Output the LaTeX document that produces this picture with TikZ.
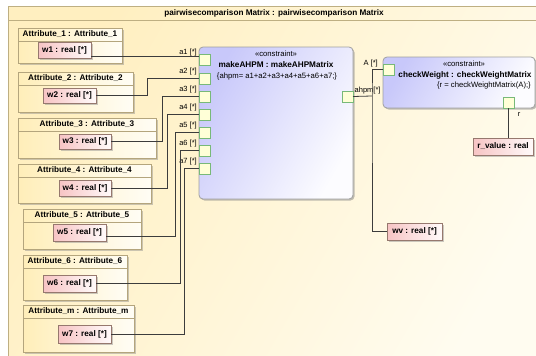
\documentclass[tikz,border=0pt]{standalone}
\usepackage{fontspec}
\setmainfont{Liberation Sans}
\usetikzlibrary{shadows,calc}
\definecolor{frameA}{RGB}{255,239,192}
\definecolor{frameB}{RGB}{255,252,240}
\definecolor{frameLine}{RGB}{190,175,130}
\definecolor{attrA}{RGB}{255,238,185}
\definecolor{attrB}{RGB}{255,253,245}
\definecolor{attrLine}{RGB}{180,165,125}
\definecolor{wA}{RGB}{247,196,196}
\definecolor{wB}{RGB}{255,250,250}
\definecolor{wLine}{RGB}{150,120,110}
\definecolor{cA}{RGB}{200,200,250}
\definecolor{cB}{RGB}{252,252,255}
\definecolor{cLine}{RGB}{160,160,160}
\definecolor{portFill}{RGB}{255,255,215}
\definecolor{portLine}{RGB}{120,185,120}
\definecolor{connCol}{RGB}{60,60,60}
\begin{document}
\begin{tikzpicture}[x=1pt,y=-1pt,
  box/.style={inner sep=0pt, outer sep=0pt, anchor=north west},
  framebox/.style={box, draw=frameLine, line width=0.8pt, left color=frameA, right color=frameB, shading angle=60},
  attrbox/.style={box, draw=attrLine, line width=0.8pt, left color=attrA, right color=attrB,
     drop shadow={shadow xshift=1.5pt, shadow yshift=-1.5pt, fill=black!45, opacity=0.45}},
  wbox/.style={box, draw=wLine, line width=0.6pt, left color=wA, right color=wB,
     drop shadow={shadow xshift=1.5pt, shadow yshift=-1.5pt, fill=black!45, opacity=0.45}},
  cblock/.style={box, draw=cLine, line width=0.8pt, rounded corners=4pt, left color=cA, right color=cB, shading angle=60,
     drop shadow={shadow xshift=1.5pt, shadow yshift=-1.5pt, fill=black!50, opacity=0.5}},
  portbox/.style={box, draw=portLine, line width=0.6pt, fill=portFill, minimum width=11pt, minimum height=11pt},
  bold/.style={inner sep=0pt, font=\fontsize{8.2}{10}\selectfont\bfseries},
  reg/.style={inner sep=0pt, font=\fontsize{7.7}{9}\selectfont},
  plabel/.style={inner sep=0pt, font=\fontsize{7.5}{9}\selectfont},
  conn/.style={draw=connCol, line width=0.8pt}
]
\useasboundingbox (0,0) rectangle (536,356);
\clip (0,0) rectangle (536,356);

% frame
\node[framebox, minimum width=540pt, minimum height=365pt] (frame) at (8,6) {};
\draw[draw=frameLine, line width=0.8pt] (8,20) -- (548,20);
\node[bold] (title) at (274,13) {pairwisecomparison Matrix : pairwisecomparison Matrix};

% attribute boxes
\node[attrbox, minimum width=104pt, minimum height=35pt] (A1) at (18,28) {};
\node[attrbox, minimum width=115pt, minimum height=40pt] (A2) at (18,72) {};
\node[attrbox, minimum width=138pt, minimum height=40pt] (A3) at (18,118) {};
\node[attrbox, minimum width=133pt, minimum height=39pt] (A4) at (18,164) {};
\node[attrbox, minimum width=118pt, minimum height=40pt] (A5) at (23,209) {};
\node[attrbox, minimum width=104pt, minimum height=45pt] (A6) at (23,255) {};
\node[attrbox, minimum width=111pt, minimum height=47pt] (A7) at (23,305) {};
\foreach \n/\t in {A1/Attribute\_1 : Attribute\_1, A2/Attribute\_2 : Attribute\_2, A3/Attribute\_3 : Attribute\_3,
  A4/Attribute\_4 : Attribute\_4, A5/Attribute\_5 : Attribute\_5, A6/Attribute\_6 : Attribute\_6, A7/Attribute\_m : Attribute\_m}{
  \draw[draw=attrLine, line width=0.8pt] ([yshift=-13pt]\n.north west) -- ([yshift=-13pt]\n.north east);
  \node[bold] (\n t) at ([yshift=-6.5pt]\n.north) {\t};
}

% w boxes
\node[wbox, minimum width=53pt, minimum height=16pt] (w1) at (38,42) {};
\node[wbox, minimum width=53pt, minimum height=15pt] (w2) at (43,88) {};
\node[wbox, minimum width=52pt, minimum height=15pt] (w3) at (59,134) {};
\node[wbox, minimum width=52pt, minimum height=16pt] (w4) at (59,180) {};
\node[wbox, minimum width=53pt, minimum height=17pt] (w5) at (53,224) {};
\node[wbox, minimum width=53pt, minimum height=17pt] (w6) at (43,275) {};
\node[wbox, minimum width=53pt, minimum height=18pt] (w7) at (58,325) {};
\foreach \i in {1,...,7}{
  \node[bold] (w\i t) at (w\i.center) {w\i{} : real [*]};
}

% makeAHPM block
\node[cblock, minimum width=154pt, minimum height=152pt] (mk) at (199,47) {};
\node[reg] (mks) at (276,54) {«constraint»};
\node[bold] (mkn) at (276,65) {makeAHPM : makeAHPMatrix};
\node[reg] (mkf) at (277,77) {\{ahpm= a1+a2+a3+a4+a5+a6+a7;\}};

% left ports
\foreach \i/\y in {1/54,2/73,3/91,4/109,5/127,6/145,7/163}{
  \node[portbox] (p\i) at (199,\y) {};
  \node[plabel, anchor=east] (p\i l) at ([xshift=-2pt,yshift=1pt]p\i.north west) {a\i{} [*]};
}
% output port
\node[portbox] (pout) at (342,91) {};
\node[plabel, anchor=west] (poutl) at ([xshift=1.5pt]pout.north east) {ahpm[*]};

% checkWeight block
\node[cblock, minimum width=152pt, minimum height=51pt] (cw) at (383,57) {};
\node[reg] (cws) at (464,64) {«constraint»};
\node[bold] (cwn) at (465,75) {checkWeight : checkWeightMatrix};
\node[reg, anchor=east] (cwf) at (531,86) {\{r = checkWeightMatrix(A);\}};
\node[portbox] (pA) at (383,64) {};
\node[plabel, anchor=east] (pAl) at (378,64) {A [*]};
\node[portbox] (pr) at (503,97) {};
\node[plabel] (prl) at (519,114) {r};

% value boxes
\node[wbox, minimum width=60pt, minimum height=17pt] (rv) at (473,138) {};
\node[bold] (rvt) at (rv.center) {r\_value : real};
\node[wbox, minimum width=55pt, minimum height=17pt] (wv) at (387,223) {};
\node[bold] (wvt) at (wv.center) {wv : real [*]};

% connectors left
\coordinate (s1) at ([yshift=-6pt]w1.east);
\draw[conn] (s1) -- (s1 -| p1.west);
\coordinate (b2) at (147,0);
\coordinate (b3) at (162,0);
\coordinate (b4) at (167,0);
\coordinate (b5) at (175,0);
\coordinate (b6) at (180,0);
\coordinate (b7) at (184,0);
\draw[conn] (w2.east) -| (b2 |- p2.west) -- (p2.west);
\draw[conn] (w3.east) -| (b3 |- p3.west) -- (p3.west);
\draw[conn] (w4.east) -| (b4 |- p4.west) -- (p4.west);
\coordinate (s5) at ([yshift=-4pt]w5.east);
\draw[conn] (s5) -| (b5 |- p5.west) -- (p5.west);
\draw[conn] (w6.east) -| (b6 |- p6.west) -- (p6.west);
\draw[conn] (w7.east) -| (b7 |- p7.west) -- (p7.west);

% connectors right
\coordinate (j) at (372,96);
\draw[conn] (pout.east) -- (j);
\draw[conn] (pA.west) -| (j) |- (wv.west);
\draw[conn] (pr.south) -- (rv.north -| pr.south);
\end{tikzpicture}
\end{document}
